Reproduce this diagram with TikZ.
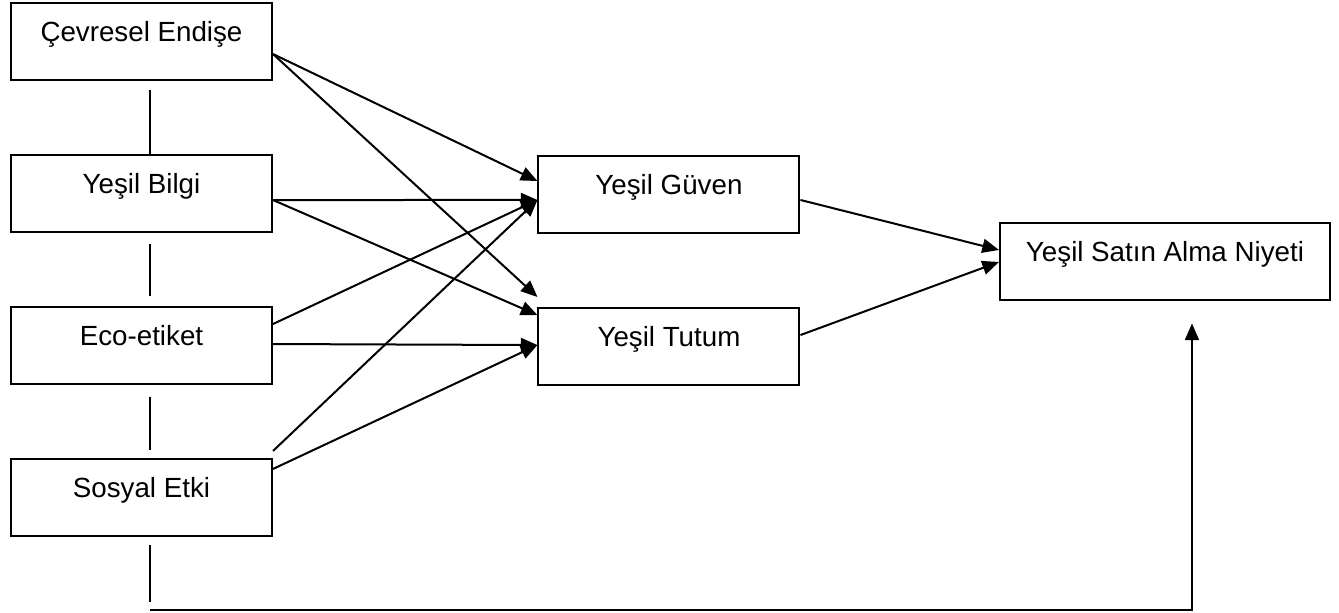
\documentclass[tikz,border=0pt]{standalone}
\usepackage{fontspec}
\setmainfont{Liberation Sans}
\usepackage{tikz}
\usetikzlibrary{arrows.meta, positioning}

\begin{document}
\begin{tikzpicture}[x=0.75pt, y=-0.75pt, line width=1.5pt, node distance=114pt, on grid,
    kutu/.style={draw, rectangle, minimum width=195.75pt, minimum height=57.75pt,
        text height=15pt, text depth=15pt, inner sep=0pt,
        font=\fontsize{20.8pt}{24pt}\selectfont},
    ok/.style={-{Triangle[length=12.5pt, width=10.5pt]}}]
        \useasboundingbox (0,0) rectangle (1339,613);
        \node[kutu] (ce) at (141.5,41.5) {Çevresel Endişe};
        \node[kutu] (yb) [below=of ce] {Yeşil Bilgi};
        \node[kutu] (ee) [below=of yb] {Eco-etiket};
        \node[kutu] (se) [below=of ee] {Sosyal Etki};
        \node[kutu] (gv) [right=395.6pt of yb, yshift=-0.75pt] {Yeşil Güven};
        \node[kutu] (tt) [below=of gv] {Yeşil Tutum};
        \node[kutu, minimum width=247.5pt] (ny) [below right=50.6pt and 372pt of gv] {Yeşil Satın Alma Niyeti};

        % dikey baglantilar
        \draw ([xshift=6.4pt, yshift=-6.75pt]ce.south) -- ([xshift=6.4pt, yshift=-1.5pt]yb.north);
        \draw ([xshift=6.4pt, yshift=-8.25pt]yb.south) -- ([xshift=6.4pt, yshift=7.5pt]ee.north);
        \draw ([xshift=6.4pt, yshift=-9pt]ee.south) -- ([xshift=6.4pt, yshift=6pt]se.north);
        \draw ([xshift=6.4pt, yshift=-6pt]se.south) -- ([xshift=6.4pt, yshift=-48.75pt]se.south);

        % oklar
        \draw[ok] ([yshift=-9.4pt]ce.east) -- ([yshift=10.1pt]gv.west);
        \draw[ok] ([yshift=-9.4pt]ce.east) -- ([yshift=37.1pt]tt.west);
        \draw[ok] ([yshift=-4.9pt]yb.east) -- ([yshift=-4.1pt]gv.west);
        \draw[ok] ([yshift=-4.9pt]yb.east) -- ([yshift=23.6pt]tt.west);
        \draw[ok] ([yshift=16.1pt]ee.east) -- ([yshift=-4.1pt]gv.west);
        \draw[ok] ([yshift=1.1pt]ee.east) -- ([yshift=1.1pt]tt.west);
        \draw[ok] ([yshift=34.9pt]se.east) -- ([yshift=-4.1pt]gv.west);
        \draw[ok] ([yshift=21.4pt]se.east) -- ([yshift=1.1pt]tt.west);
        \draw[ok] ([yshift=-4.1pt]gv.east) -- ([yshift=9pt]ny.west);
        \draw[ok] ([yshift=8.6pt]tt.east) -- (ny.west);

        \coordinate (alt) at ([xshift=6.4pt, yshift=-54.75pt]se.south);
        \coordinate (uc) at ([xshift=20.25pt, yshift=-16.5pt]ny.south);
        \draw[ok] (alt) -| (uc);
    \end{tikzpicture}
\end{document}
